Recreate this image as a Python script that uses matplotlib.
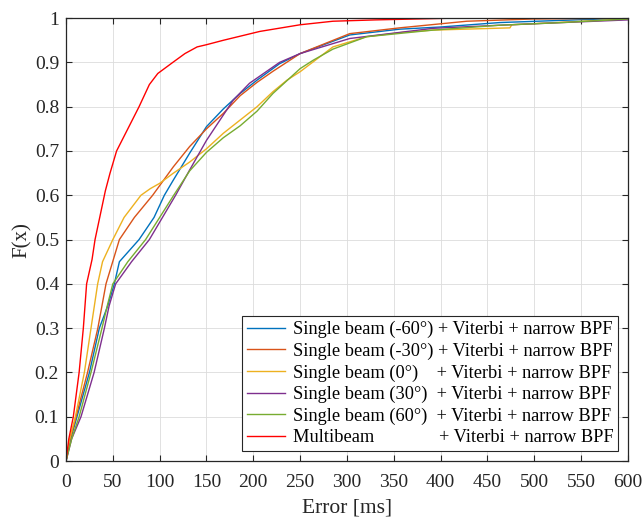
import matplotlib
matplotlib.use("Agg")
import matplotlib.pyplot as plt
import numpy as np

plt.rcParams['font.family'] = ['Liberation Serif', 'DejaVu Serif']

x_m60 = [0, 5, 11.7, 25, 35.6, 44.5, 51.6, 57, 78, 94, 105, 114.5, 132, 150, 168, 186, 204, 228, 250, 303, 356, 400, 463, 530, 600]
f_m60 = [0, 0.05, 0.1, 0.2, 0.3, 0.35, 0.4, 0.45, 0.5, 0.55, 0.6, 0.634, 0.695, 0.755, 0.795, 0.83, 0.86, 0.897, 0.92, 0.962, 0.975, 0.98, 0.99, 0.995, 1.0]

x_m30 = [0, 4.5, 10.7, 23, 34, 42.7, 57, 73, 92.5, 114.5, 132, 150, 168, 186, 204, 221, 250, 303, 356, 428, 498, 600]
f_m30 = [0, 0.05, 0.1, 0.2, 0.3, 0.4, 0.5, 0.55, 0.6, 0.664, 0.71, 0.75, 0.785, 0.825, 0.855, 0.88, 0.92, 0.965, 0.978, 0.993, 0.998, 1.0]

x_0 = [0, 4, 10, 19.6, 26.7, 33.8, 39, 50, 62, 80, 90, 100, 114, 132, 150, 168, 186, 204, 221, 236, 250, 285, 321, 360, 392, 474, 476, 600]
f_0 = [0, 0.05, 0.1, 0.2, 0.3, 0.4, 0.45, 0.5, 0.55, 0.6, 0.615, 0.627, 0.649, 0.675, 0.705, 0.74, 0.77, 0.80, 0.834, 0.86, 0.879, 0.935, 0.958, 0.968, 0.973, 0.978, 0.985, 0.998]

x_p30 = [0, 6, 16, 30, 41, 46, 53, 70, 89, 103, 117, 132, 150, 178.6, 196, 228, 250, 303, 392, 463, 530, 600]
f_p30 = [0, 0.05, 0.1, 0.2, 0.3, 0.35, 0.4, 0.45, 0.5, 0.55, 0.6, 0.657, 0.724, 0.815, 0.853, 0.90, 0.92, 0.954, 0.977, 0.984, 0.99, 0.996]

x_p60 = [0, 6, 14, 26.7, 38.4, 44, 50, 66, 85, 100, 115, 132, 150, 168, 186, 204, 221, 250, 264, 285, 321, 392, 463, 530, 600]
f_p60 = [0, 0.05, 0.1, 0.2, 0.3, 0.35, 0.4, 0.45, 0.5, 0.55, 0.6, 0.655, 0.697, 0.73, 0.757, 0.79, 0.83, 0.886, 0.905, 0.93, 0.958, 0.973, 0.984, 0.99, 0.998]

x_mb = [0, 3, 7.8, 14, 18.5, 22, 27.8, 31, 36, 42, 47, 54, 66, 78, 89, 98, 114, 127, 140, 150, 168, 207, 250, 285, 330, 415, 600]
f_mb = [0, 0.05, 0.1, 0.2, 0.3, 0.4, 0.455, 0.5, 0.55, 0.61, 0.65, 0.7, 0.75, 0.8, 0.85, 0.875, 0.9, 0.92, 0.935, 0.94, 0.95, 0.97, 0.985, 0.993, 0.996, 1.0, 1.0]

labels = ["Single beam (-60°) + Viterbi + narrow BPF",
          "Single beam (-30°) + Viterbi + narrow BPF",
          "Single beam (0°)    + Viterbi + narrow BPF",
          "Single beam (30°)  + Viterbi + narrow BPF",
          "Single beam (60°)  + Viterbi + narrow BPF",
          "Multibeam              + Viterbi + narrow BPF"]

fig = plt.figure(figsize=(6.44, 5.18), dpi=100)
ax = fig.add_axes([0.1025, 0.110, 0.8725, 0.855])

ax.plot(x_m60, f_m60, color='#0072BD', lw=1, label=labels[0])
ax.plot(x_m30, f_m30, color='#D95319', lw=1, label=labels[1])
ax.plot(x_0, f_0, color='#EDB120', lw=1, label=labels[2])
ax.plot(x_p30, f_p30, color='#7E2F8E', lw=1, label=labels[3])
ax.plot(x_p60, f_p60, color='#77AC30', lw=1, label=labels[4])
ax.plot(x_mb, f_mb, color='#FF0000', lw=1, label=labels[5])

ax.set_xlim(0, 600)
ax.set_ylim(0, 1)
ax.set_xticks(np.arange(0, 601, 50))
ax.set_yticks(np.arange(0, 1.01, 0.1))
ax.set_yticklabels(['0', '0.1', '0.2', '0.3', '0.4', '0.5', '0.6', '0.7', '0.8', '0.9', '1'])
ax.grid(True, color='#dcdcdc', lw=0.6)
ax.set_axisbelow(True)
ax.tick_params(direction='in', top=True, right=True, labelsize=14, colors='#262626', length=4)
ax.tick_params(axis='x', pad=9)
ax.tick_params(axis='y', pad=5)
for s in ax.spines.values():
    s.set_color('#262626')
    s.set_linewidth(0.9)
ax.set_xlabel('Error [ms]', fontsize=15.5, color='#262626', labelpad=6)
ax.set_ylabel('F(x)', fontsize=15, color='#262626', labelpad=2)

leg = ax.legend(loc='lower right', fontsize=13.2, handlelength=2.1, handletextpad=0.4,
                labelspacing=0.24, borderpad=0.25, borderaxespad=0.55,
                fancybox=False, framealpha=1, edgecolor='#262626')
leg.get_frame().set_linewidth(0.8)

fig.savefig('out.png', dpi=100)
